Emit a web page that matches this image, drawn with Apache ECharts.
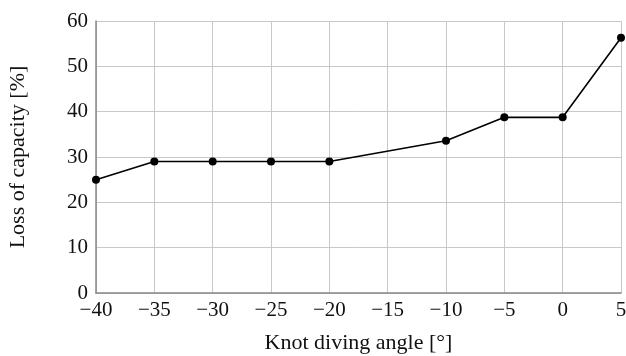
<!DOCTYPE html>
<html>
<head>
<meta charset="utf-8">
<script src="https://cdn.jsdelivr.net/npm/echarts@6/dist/echarts.min.js"></script>
<style>
  html, body { margin: 0; padding: 0; background: #fff; }
  #chart { width: 626px; height: 356px; }
</style>
</head>
<body>
<div id="chart"></div>
<script>
// knot diving angle [deg] vs loss of capacity [%]
const angles = [-40, -35, -30, -25, -20, -10, -5, 0, 5];
const lossValues = [25.0, 29.0, 29.0, 29.0, 29.0, 33.6, 38.75, 38.75, 56.3];

const serif = '"Liberation Serif", "DejaVu Serif", serif';
const minus = v => String(v).replace('-', '\u2212');

const chart = echarts.init(document.getElementById('chart'));
const option = {
  animation: false,
  backgroundColor: '#fff',
  grid: { left: 96, right: 5, top: 21, bottom: 63, outerBoundsMode: 'none' },
  xAxis: {
    type: 'value',
    min: -40, max: 5, interval: 5,
    name: 'Knot diving angle [\u00b0]',
    nameLocation: 'middle',
    nameGap: 39,
    nameTextStyle: { fontFamily: serif, fontSize: 22, color: '#111' },
    axisLine: { show: true, onZero: false, lineStyle: { color: '#888', width: 1.5 } },
    axisTick: { show: false },
    axisLabel: { fontFamily: serif, fontSize: 21, color: '#111', margin: 7, formatter: minus },
    splitLine: { show: true, lineStyle: { color: '#c8c8c8', width: 1 } }
  },
  yAxis: {
    type: 'value',
    min: 0, max: 60, interval: 10,
    name: 'Loss of capacity [%]',
    nameLocation: 'middle',
    nameGap: 67,
    nameTextStyle: { fontFamily: serif, fontSize: 22, color: '#111' },
    axisLine: { show: true, onZero: false, lineStyle: { color: '#888', width: 1.5 } },
    axisTick: { show: false },
    axisLabel: { fontFamily: serif, fontSize: 21, color: '#111', margin: 8, formatter: minus },
    splitLine: { show: true, lineStyle: { color: '#c8c8c8', width: 1 } }
  },
  series: [{
    type: 'line',
    data: angles.map((a, i) => [a, lossValues[i]]),
    symbol: 'circle',
    symbolSize: 8,
    itemStyle: { color: '#000' },
    lineStyle: { color: '#000', width: 1.6 }
  }]
};
chart.setOption(option);
</script>
</body>
</html>
